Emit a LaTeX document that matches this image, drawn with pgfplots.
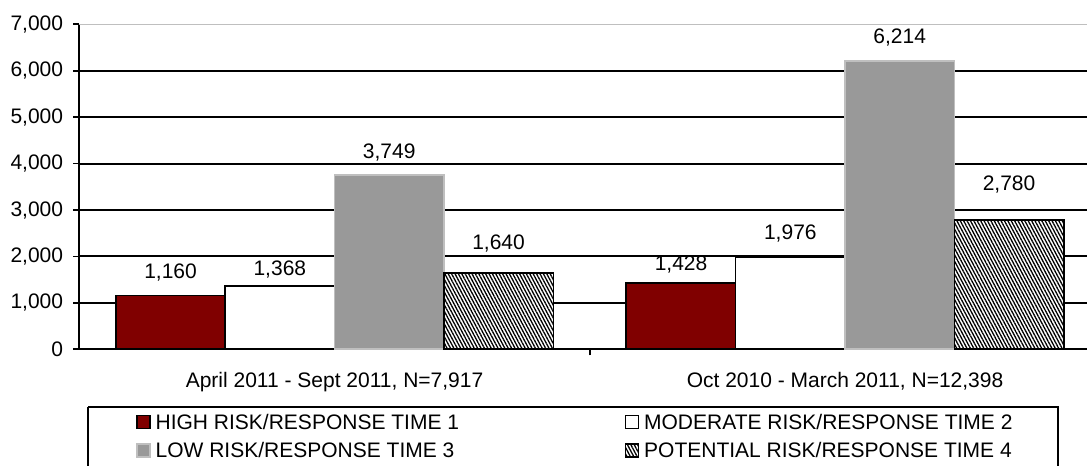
\documentclass[border=0pt]{standalone}
\usepackage{fontspec}
\setmainfont{Liberation Sans}
\usepackage{pgfplots}
\pgfplotsset{compat=1.18}
\usetikzlibrary{patterns.meta}
\definecolor{darkred}{HTML}{800000}
\definecolor{midgray}{HTML}{999999}
\definecolor{lightedge}{HTML}{BFBFBF}
\begin{document}
\fontsize{21bp}{25bp}\selectfont
\begin{tikzpicture}
\pgfplotsset{
  sq legend/.style={legend image code/.code={\draw[##1, line width=1.5bp] (0bp,-6.5bp) rectangle (13bp,6.5bp);}},
  lbl/.style={
    nodes near coords,
    visualization depends on={\thisrow{dy}\as\dy},
    every node near coord/.append style={anchor=center, inner sep=0pt, xshift=#1bp, yshift=\dy bp, text=black},
  },
}
\begin{axis}[
  at={(79.3bp,116.7bp)}, anchor=south west,
  scale only axis, width=1021bp, height=325bp,
  xmin=-0.5, xmax=1.5, ymin=0, ymax=7000,
  axis x line*=bottom, axis y line*=left,
  axis line style={line width=2bp, black},
  /pgf/number format/assume math mode=true,
  /pgf/number format/1000 sep={,},
  ytick={0,1000,2000,3000,4000,5000,6000},
  ymajorgrids,
  grid style={line width=2bp, black},
  extra y ticks={7000},
  extra y tick style={grid style={draw=lightedge, line width=1.2bp}},
  tick align=outside,
  major tick length=6bp,
  tick style={line width=1.8bp, black},
  yticklabel style={inner sep=0pt, anchor=east, xshift=-10bp},
  xtick={0.5},
  xticklabels={},
  extra x ticks={0,1},
  extra x tick labels={{April 2011 - Sept 2011, N=7,917},{Oct 2010 - March 2011, N=12,398}},
  extra x tick style={major tick length=0pt, xticklabel style={inner sep=0pt, anchor=north, yshift=-22.7bp}},
  legend columns=2,
  legend style={at={(0.0555,-0.2)}, anchor=north west, draw=none, fill=none, inner sep=0pt,
    nodes={inner sep=0pt, text height=14.9bp, text depth=0bp, anchor=west},
    row sep=13.5bp,
    /tikz/every odd column/.append style={column sep=5bp},
    /tikz/every even column/.append style={column sep=0bp}},
  legend cell align=left,
]
\addplot[ybar, bar width=0.2145, bar shift=-0.3216, fill=darkred, draw=black, line width=1.8bp, lbl=-164, sq legend]
  table {
x y dy
0 1160 23.4
1 1428 18
};
\addlegendentry{\makebox[469bp][l]{HIGH RISK/RESPONSE TIME 1}}
\addplot[ybar, bar width=0.2145, bar shift=-0.1072, fill=white, draw=black, line width=1.8bp, lbl=-54.7, sq legend]
  table {
x y dy
0 1368 16.3
1 1976 24
};
\addlegendentry{MODERATE RISK/RESPONSE TIME 2}
\addplot[ybar, bar width=0.2145, bar shift=0.1072, fill=midgray, draw=lightedge, line width=1.8bp, lbl=54.7, sq legend]
  table {
x y dy
0 3749 23
1 6214 23.3
};
\addlegendentry{\makebox[469bp][l]{LOW RISK/RESPONSE TIME 3}}
\addplot[ybar, bar width=0.2145, bar shift=0.3216, draw=black, line width=1.8bp, fill=white,
  postaction={pattern={Lines[angle=-62, distance=3bp, line width=1.3bp]}}, lbl=164, sq legend]
  table {
x y dy
0 1640 29.9
1 2780 35.7
};
\addlegendentry{POTENTIAL RISK/RESPONSE TIME 4}
\end{axis}
\draw[line width=1.8bp, black] (88bp,59bp) -- (88bp,-30bp) (88bp,59bp) -- (1058bp,59bp) -- (1058bp,-30bp);
\pgfresetboundingbox
\useasboundingbox (0bp,0bp) rectangle (1087bp,466bp);
\end{tikzpicture}
\end{document}
